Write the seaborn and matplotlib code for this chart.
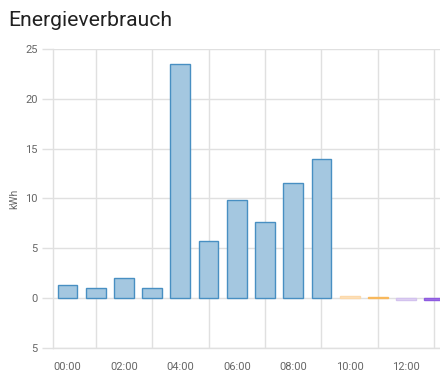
import matplotlib
matplotlib.use("Agg")
import matplotlib.pyplot as plt
import seaborn as sns
import pandas as pd
from matplotlib.ticker import FuncFormatter, MultipleLocator

hours = list(range(14))
values = [1.3, 1.0, 2.0, 1.0, 23.5, 5.7, 9.8, 7.6, 11.6, 14.0, 0.2, 0.12, -0.15, -0.2]
fills = ["#a4c7e0"] * 10 + ["#fde3c2", "#fbc57a", "#e2d6f3", "#a57ae6"]
edges = ["#488fc2"] * 10 + ["#fcd9ab", "#f8b85c", "#d3c2ee", "#8e5be0"]
tick_hours = [0, 2, 4, 6, 8, 10, 12]
tick_labels = ["00:00", "02:00", "04:00", "06:00", "08:00", "10:00", "12:00"]
yticks = [-5, 0, 5, 10, 15, 20, 25]

sns.set_theme(style="white")
plt.rcParams["font.family"] = ["Roboto", "DejaVu Sans"]

df = pd.DataFrame({"hour": hours, "kWh": values})

fig = plt.figure(figsize=(4.4, 3.82), dpi=100)
ax = fig.add_axes([53/440, 1-348/382, 1-53/440, (348-49)/382])

sns.barplot(data=df, x="hour", y="kWh", hue="hour", palette=fills, legend=False,
            width=0.7, saturation=1, ax=ax, zorder=3)
for patch, ec in zip(ax.patches, edges):
    patch.set_edgecolor(ec)
    patch.set_linewidth(1.0)

ax.set_xlim(-0.51, 13.2)
ax.set_ylim(-5, 25)
grid_c = "#e0e0e0"
ax.set_yticks(yticks)
ax.yaxis.set_major_formatter(FuncFormatter(lambda v, p: f"{abs(int(v))}"))
ax.set_xticks(tick_hours)
ax.set_xticklabels(tick_labels)
ax.xaxis.set_minor_locator(MultipleLocator(2, offset=1))
ax.tick_params(axis="x", which="major", length=0, pad=10, labelsize=8, labelcolor="#666666")
ax.tick_params(axis="x", which="minor", length=7, color=grid_c, width=1)
ax.tick_params(axis="y", which="major", length=8, color=grid_c, width=1, pad=3,
               labelsize=8, labelcolor="#666666", left=True)
ax.grid(False)
ax.yaxis.grid(True, color=grid_c, linewidth=1, zorder=0)
ax.xaxis.grid(True, which="minor", color=grid_c, linewidth=1, zorder=0)
ax.set_axisbelow(True)
for s in ["top", "right"]:
    ax.spines[s].set_visible(False)
for s in ["left", "bottom"]:
    ax.spines[s].set_color(grid_c)
    ax.spines[s].set_linewidth(1)
ax.set_xlabel("")
ax.set_ylabel("kWh", fontsize=7.5, color="#666666", labelpad=4)

fig.text(8/440, 1-26/382, "Energieverbrauch", fontsize=15.2, color="#212121",
         ha="left", va="baseline")

fig.savefig("out.png", dpi=100)
